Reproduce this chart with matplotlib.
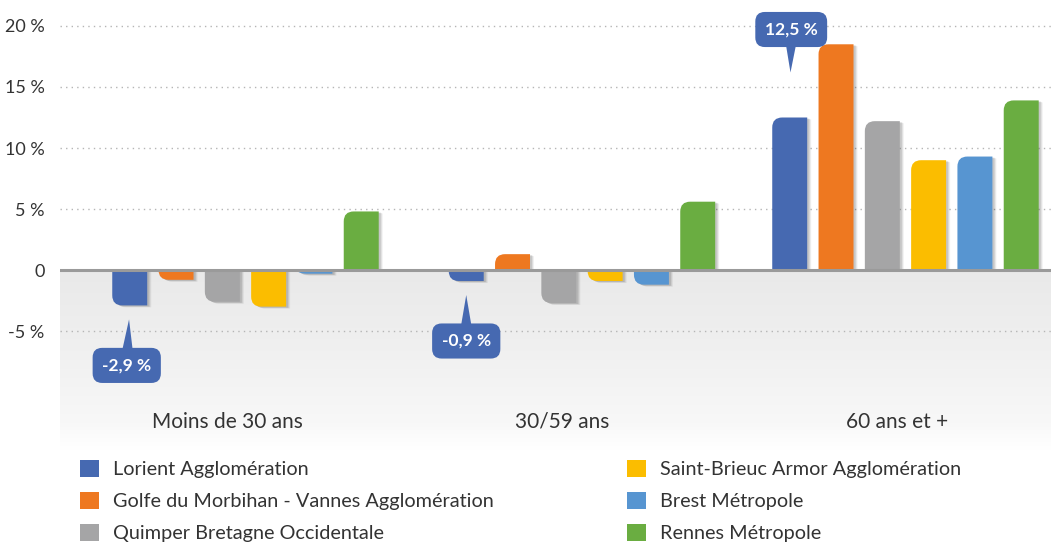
import numpy as np
import matplotlib
matplotlib.use("Agg")
import matplotlib.pyplot as plt
from matplotlib.path import Path
from matplotlib.patches import PathPatch, Patch
from matplotlib.transforms import ScaledTranslation
from matplotlib.colors import LinearSegmentedColormap

# ---------------- data ----------------
categories = ["Moins de 30 ans", "30/59 ans", "60 ans et +"]
series_names = [
    "Lorient Agglomération",
    "Golfe du Morbihan - Vannes Agglomération",
    "Quimper Bretagne Occidentale",
    "Saint-Brieuc Armor Agglomération",
    "Brest Métropole",
    "Rennes Métropole",
]
lorient = [-2.9, -0.9, 12.5]
vannes = [-0.8, 1.3, 18.5]
quimper = [-2.6, -2.7, 12.2]
stbrieuc = [-3.0, -0.9, 9.0]
brest = [-0.3, -1.2, 9.3]
rennes = [4.8, 5.6, 13.9]
series_values = [lorient, vannes, quimper, stbrieuc, brest, rennes]
yticks = [-5, 0, 5, 10, 15, 20]
ytick_labels = ["-5 %", "0", "5 %", "10 %", "15 %", "20 %"]
callouts = [(0, 0, "-2,9 %"), (0, 1, "-0,9 %"), (0, 2, "12,5 %")]  # (series, category, text)

colors = ["#4669B1", "#EE7820", "#A5A5A6", "#FBBD00", "#5795D1", "#6AAD41"]
FONT = "Lato"
TXT = "#333333"

# layout (group centres, slightly uneven as in the original)
group_pos = np.array([0.0, 1.0197, 2.0])

W, H = 1051, 542
fig = plt.figure(figsize=(W / 100, H / 100), dpi=100)
ax = fig.add_axes([60 / W, (H - 450) / H, 991 / W, 440 / H])
XL = (-0.5621, 2.441)
ax.set_xlim(*XL)
ax.set_ylim(-14.75, 21.31)
for s in ax.spines.values():
    s.set_visible(False)
ax.set_xticks([])

# gradient background below zero
grad = np.linspace(0, 1, 256).reshape(-1, 1)
cmap = LinearSegmentedColormap.from_list("g", [(0, "#e9e9e9"), (0.45, "#f0f0f0"), (0.85, "#f8f8f8"), (1, "#ffffff")])
ax.imshow(grad, extent=[XL[0], XL[1], -14.75, 0], aspect="auto", cmap=cmap, origin="upper", zorder=0)

# grid
for t in yticks:
    if t != 0:
        ax.axhline(t, color="#b5b5b5", lw=1.0, ls=(0, (1, 3)), zorder=1)
ax.axhline(0, color="#9a9a9a", lw=2.2, zorder=4)

ax.set_yticks(yticks)
ax.set_yticklabels(ytick_labels, fontsize=13, color=TXT, fontfamily=FONT)
ax.tick_params(axis="y", length=0, pad=11)

n = len(series_values)
step = 0.1403
width = 0.106

px_x = 330.0   # px per x unit
px_y = 12.2    # px per y unit
r_px = 10

def rounded_path(x0, x1, v):
    rx = r_px / px_x
    ry = min(r_px / px_y, abs(v))
    rx = min(rx, (x1 - x0))
    if v >= 0:
        verts = [(x0, 0), (x0, v - ry), (x0, v), (x0 + rx, v), (x1, v), (x1, 0), (x0, 0)]
    else:
        verts = [(x0, 0), (x0, v + ry), (x0, v), (x0 + rx, v), (x1, v), (x1, 0), (x0, 0)]
    codes = [Path.MOVETO, Path.LINETO, Path.CURVE3, Path.CURVE3, Path.LINETO, Path.LINETO, Path.CLOSEPOLY]
    return Path(verts, codes)

bar_centers = {}
for i, (vals, col, name) in enumerate(zip(series_values, colors, series_names)):
    xs = group_pos + (i - (n - 1) / 2) * step
    bars = ax.bar(xs, vals, width, color=col, label=name, zorder=3)
    for j, (rect, v) in enumerate(zip(bars.patches, vals)):
        rect.set_visible(False)
        x0 = rect.get_x()
        x1 = x0 + rect.get_width()
        bar_centers[(i, j)] = (x0 + x1) / 2
        p = rounded_path(x0, x1, v)
        for k, a in [(4, 0.06), (3, 0.08), (2, 0.10)]:
            sh = PathPatch(p, fc="#000000", ec="none", alpha=a,
                           transform=ax.transData + ScaledTranslation(k / 100, -k / 200, fig.dpi_scale_trans),
                           zorder=2)
            ax.add_patch(sh)
        ax.add_patch(PathPatch(p, fc=col, ec="none", zorder=3))

# category labels
for j, c in enumerate(categories):
    ax.text(0.1685 + j * 0.338, -12.45, c, ha="center", va="center", fontsize=15, color=TXT,
            fontfamily=FONT, transform=ax.get_yaxis_transform())

# callouts  (box offsets in pixels)
box_offsets = {0: (-3, -60), 1: (0, -60), 2: (1.5, 88)}
for si, ci, txt in callouts:
    v = series_values[si][ci]
    bx = bar_centers[(si, ci)]
    tip_off = 14 if v < 0 else 45
    bo = box_offsets[ci]
    ax.annotate(txt, xy=(bx, v), xytext=(bo[0] * 0.72, bo[1] * 0.72), textcoords="offset points",
                ha="center", va="center", fontsize=12.5, fontweight="bold", color="white", fontfamily=FONT,
                bbox=dict(boxstyle="round,pad=0.55,rounding_size=0.55", fc=colors[0], ec="none"),
                arrowprops=dict(arrowstyle="wedge,tail_width=0.9,shrink_factor=0.5", fc=colors[0], ec="none",
                                shrinkA=0, shrinkB=tip_off * 0.72, patchA=None),
                zorder=6)

handles = [Patch(fc=c, ec="none") for c in colors]
common = dict(frameon=False, prop={"family": FONT, "size": 14.3}, labelcolor=TXT,
              handlelength=0.95, handleheight=0.95, handletextpad=0.72,
              labelspacing=0.68, borderaxespad=0, borderpad=0, loc="upper left")
fig.legend(handles[:3], series_names[:3], bbox_to_anchor=(80 / W, 1 - 460 / H), **common)
fig.legend(handles[3:], series_names[3:], bbox_to_anchor=(627 / W, 1 - 460 / H), **common)

fig.savefig("out.png", dpi=100)
